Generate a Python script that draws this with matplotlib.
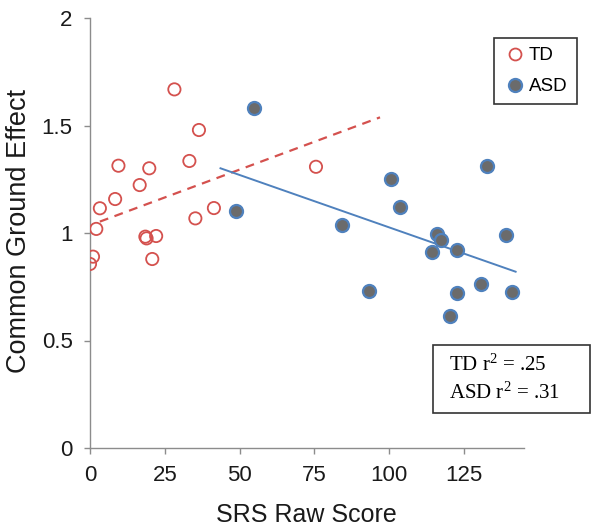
import matplotlib
matplotlib.use("Agg")
import matplotlib.pyplot as plt
from matplotlib.lines import Line2D
from matplotlib.patches import Rectangle

plt.rcParams["mathtext.fontset"] = "custom"
plt.rcParams["mathtext.rm"] = "Liberation Serif"
plt.rcParams["mathtext.it"] = "Liberation Serif"

td_x = [28.2, 36.4, 9.5, 19.8, 33.2, 16.6, 8.4, 3.3, 2.1, 41.4, 35.2, 18.5, 18.9, 22.1, 20.8, 1.0, 0.0, 75.5]
td_y = [1.668, 1.479, 1.313, 1.301, 1.335, 1.223, 1.158, 1.115, 1.019, 1.116, 1.068, 0.983, 0.975, 0.986, 0.879, 0.890, 0.856, 1.308]

asd_x = [48.8, 54.9, 84.1, 93.2, 100.7, 103.7, 114.1, 116.1, 117.4, 120.3, 122.5, 122.5, 130.7, 132.8, 138.9, 141.1]
asd_y = [1.10, 1.58, 1.036, 0.73, 1.253, 1.121, 0.912, 0.994, 0.966, 0.614, 0.92, 0.72, 0.763, 1.31, 0.989, 0.724]

td_trend_x = [3.3, 96.9]
td_trend_y = [1.053, 1.538]
asd_trend_x = [43.6, 142.2]
asd_trend_y = [1.301, 0.820]

x_ticks = [0, 25, 50, 75, 100, 125]
y_ticks = [0, 0.5, 1, 1.5, 2]
y_tick_labels = ["0", "0.5", "1", "1.5", "2"]

stats_lines = [r"TD r$^{\mathrm{2}}$ = .25", r"ASD r$^{\mathrm{2}}$ = .31"]

RED = "#d4514e"
BLUE = "#4f81bd"
GRAY = "#6b6b6b"

fig = plt.figure(figsize=(6.02, 5.29), dpi=100)
ax = fig.add_axes([90/602, 81/529, 434/602, 430/529])

ax.plot(td_trend_x, td_trend_y, color=RED, lw=1.6, ls=(0, (4, 3)), zorder=2)
ax.plot(asd_trend_x, asd_trend_y, color=BLUE, lw=1.4, zorder=2)

ax.scatter(td_x, td_y, s=78, facecolors="none", edgecolors=RED, linewidths=1.3, zorder=3)
ax.scatter(asd_x, asd_y, s=88, facecolors=GRAY, edgecolors=BLUE, linewidths=1.6, zorder=3)

ax.set_xlim(0, 145)
ax.set_ylim(0, 2)
ax.set_xticks(x_ticks)
ax.set_xticklabels([str(t) for t in x_ticks])
ax.set_yticks(y_ticks)
ax.set_yticklabels(y_tick_labels)

for s in ["top", "right"]:
    ax.spines[s].set_visible(False)
for s in ["left", "bottom"]:
    ax.spines[s].set_color("#8c8c8c")
    ax.spines[s].set_linewidth(1.0)
ax.tick_params(axis="both", colors="#8c8c8c", length=4.5, width=1.0, direction="out",
               labelsize=16, labelcolor="#1a1a1a", pad=8)
for lab in ax.get_xticklabels() + ax.get_yticklabels():
    lab.set_family("Liberation Sans")

ax.set_xlabel("SRS Raw Score", fontsize=18, family="Liberation Sans", color="#1a1a1a")
ax.set_ylabel("Common Ground Effect", fontsize=19.5, family="Liberation Sans", color="#1a1a1a")
ax.xaxis.set_label_coords(0.498, -0.128)
ax.yaxis.set_label_coords(-0.134, 0.505)

handles = [
    Line2D([], [], marker="o", ls="none", markersize=8.6, markerfacecolor="none",
           markeredgecolor=RED, markeredgewidth=1.3, label="TD"),
    Line2D([], [], marker="o", ls="none", markersize=9.4, markerfacecolor=GRAY,
           markeredgecolor=BLUE, markeredgewidth=1.6, label="ASD"),
]
leg = ax.legend(handles=handles, loc="upper left", bbox_to_anchor=(0.931, 0.9535),
                borderaxespad=0, frameon=True, fancybox=False, edgecolor="#333333",
                handletextpad=0.15, handlelength=1.2, labelspacing=0.72, borderpad=0.5,
                framealpha=1, prop={"family": "Liberation Sans", "size": 13.5})
leg.get_frame().set_linewidth(1.2)

box = Rectangle((0.790, 0.0814), 0.362, 0.158, transform=ax.transAxes, facecolor="white",
                edgecolor="#333333", linewidth=1.2, clip_on=False, zorder=4)
ax.add_patch(box)
ax.text(0.827, 0.193, stats_lines[0], transform=ax.transAxes, fontsize=15,
        family="Liberation Serif", va="center", ha="left", zorder=5)
ax.text(0.827, 0.128, stats_lines[1], transform=ax.transAxes, fontsize=15,
        family="Liberation Serif", va="center", ha="left", zorder=5)

fig.savefig("out.png", dpi=100)
